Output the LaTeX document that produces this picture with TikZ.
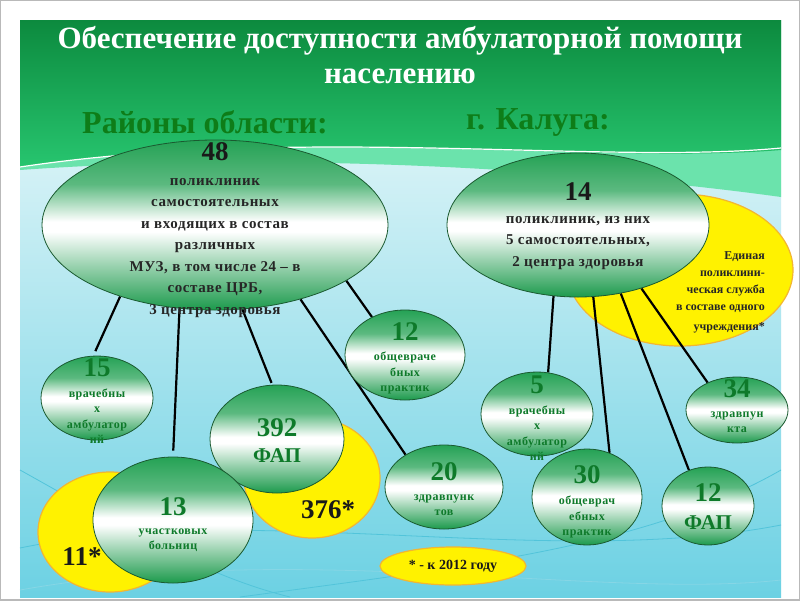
\documentclass[tikz,border=0pt]{standalone}
\usepackage{fontspec}
\setmainfont{Liberation Serif}
\usetikzlibrary{shapes.geometric}

\definecolor{bandtop}{HTML}{0C8A3E}
\definecolor{bandlow}{HTML}{27C56F}
\definecolor{mint}{HTML}{6BE3AC}
\definecolor{skyhigh}{HTML}{F6FCFC}
\definecolor{skylow}{HTML}{6CD1E3}
\definecolor{wave}{HTML}{52C4DA}
\definecolor{ovtop}{HTML}{25A255}
\definecolor{ovlow}{HTML}{1C9A4C}
\definecolor{ovedge}{HTML}{1A5A30}
\definecolor{headgreen}{HTML}{0E7D18}
\definecolor{numgreen}{HTML}{0E7A2A}
\definecolor{sun}{HTML}{FFF200}
\definecolor{sunedge}{HTML}{F2B632}

\pgfdeclareverticalshading{ovalshade}{100bp}{color(0bp)=(ovlow); color(25bp)=(ovlow);
  color(38bp)=(ovlow!45!white); color(48bp)=(white); color(51bp)=(white);
  color(62bp)=(ovtop!75!white); color(75bp)=(ovtop); color(100bp)=(ovtop)}

\pgfdeclarelayer{bg}
\pgfdeclarelayer{lines}
\pgfsetlayers{bg,lines,main}

\newcommand{\numfont}{\fontsize{27}{27}\selectfont\bfseries}
\newcommand{\bigtxt}{\fontsize{15}{21.5}\selectfont\bfseries\addfontfeatures{LetterSpace=4}}
\newcommand{\smalltxt}{\fontsize{12}{15.5}\selectfont\bfseries\addfontfeatures{LetterSpace=4}}

\begin{document}
\begin{tikzpicture} [x=1pt, y=-1pt,
            oval/.style={ellipse, draw=ovedge, line width=0.8pt,
                shading=ovalshade, inner sep=0pt},
            sunoval/.style={ellipse, draw=sunedge, line width=1.2pt,
                fill=sun, inner sep=0pt},
            num/.style={font=\numfont, text=numgreen, inner sep=0pt},
            blacknum/.style={font=\numfont, text=black!90, inner sep=0pt},
            bigtext/.style={font=\bigtxt, text=black!85, align=center, inner sep=0pt},
            smalltext/.style={font=\smalltxt, text=numgreen, align=center, inner sep=0pt},
            link/.style={draw=black, line width=2.2pt}]

        \useasboundingbox (0,0) rectangle (800,600);

        \begin{pgfonlayer}{bg}
        % Slide background
        \fill[white] (0,0) rectangle (800,600);
        \draw[gray!55, line width=2pt] (0,0) rectangle (800,600);
        \shade[top color=skyhigh, bottom color=skylow] (20,20) rectangle (781,597);
        \draw[wave, line width=0.8pt] (20,548) .. controls (250,500) and (550,570) .. (781,525);
        \draw[wave, line width=0.8pt] (240,597) .. controls (480,565) and (650,545) .. (781,470);
        \draw[wave, line width=0.8pt] (20,470) .. controls (110,520) and (200,575) .. (290,597);
        \draw[wave!70!white, line width=0.8pt] (20,590) .. controls (300,540) and (600,600) .. (781,580);
        \fill[mint] (20,20) -- (781,20) -- (781,197)
            .. controls (600,172) and (300,150) .. (20,170) -- cycle;
        \shade[top color=bandtop, bottom color=bandlow] (20,20) -- (781,20) -- (781,150)
            .. controls (600,165) and (300,125) .. (20,167) -- cycle;
        \draw[white, line width=1.2pt] (781,148) .. controls (600,165) and (300,125) .. (20,167);

        % Yellow backs
        \node (sun11) [sunoval, minimum width=144, minimum height=120] at (110,532) {};
        \node (sun376) [sunoval, minimum width=136, minimum height=120] at (312,478) {};
        \node (sunkal) [sunoval, minimum width=226, minimum height=152] at (680,270) {};
        \node (sunnote) [sunoval, minimum width=146, minimum height=38] at (453,566) {};

        % Yellow note, Kaluga
        \node (sunkaltxt) [font=\fontsize{12}{17}\selectfont\bfseries, text=black!85,
            align=right, anchor=east, inner sep=0pt] at (765,292)
            {Единая\\поликлини-\\ческая служба\\в составе одного\\[3pt]учреждения*};
        \end{pgfonlayer}

        % Title
        \node (title) [font=\fontsize{31}{35}\selectfont\bfseries,
            text=white, align=center] at (400,55)
            {Обеспечение доступности амбулаторной помощи\\населению};

        % Headings
        \node (areas) [font=\fontsize{32}{32}\selectfont\bfseries,
            text=headgreen] at (205,122) {Районы области:};
        \node (city) [font=\fontsize{32}{32}\selectfont\bfseries,
            text=headgreen] at (538,122) {г. Калуга:};

        % Districts: 48
        \node (obl) [oval, minimum width=346, minimum height=170] at (215,225) {};
        \node (obl48) [blacknum] at (215,152) {48};
        \node (obltxt) [bigtext] at (215,248)
            {поликлиник\\самостоятельных\\и входящих в состав\\различных\\МУЗ, в том числе 24 – в\\составе ЦРБ,\\3 центра здоровья};

        % Kaluga: 14
        \node (kal) [oval, minimum width=262, minimum height=144] at (578,225) {};
        \node (kal14) [blacknum] at (578,192) {14};
        \node (kaltxt) [bigtext] at (578,243)
            {поликлиник, из них\\5 самостоятельных,\\2 центра здоровья};

        % Districts: 15
        \node (n15) [oval, minimum width=112, minimum height=84] at (97,398) {};
        \node (n15num) [num] at (97,368) {15};
        \node (n15txt) [smalltext] at (97,416) {врачебны\\х\\амбулатор\\ий};

        % Districts: 392
        \node (n392) [oval, minimum width=134, minimum height=108] at (277,439) {};
        \node (n392num) [num] at (277,428) {392};
        \node (n392txt) [num, font=\fontsize{21}{21}\selectfont\bfseries] at (277,456) {ФАП};

        % Districts: 13
        \node (n13) [oval, minimum width=160, minimum height=126] at (173,520) {};
        \node (n13num) [num] at (173,507) {13};
        \node (n13txt) [smalltext] at (173,540) {участковых\\больниц};

        % Districts: 12
        \node (n12a) [oval, minimum width=120, minimum height=90] at (405,355) {};
        \node (n12anum) [num] at (405,332) {12};
        \node (n12atxt) [smalltext] at (405,373) {общевраче\\бных\\практик};

        % Districts: 20
        \node (n20) [oval, minimum width=118, minimum height=84] at (444,487) {};
        \node (n20num) [num] at (444,472) {20};
        \node (n20txt) [smalltext] at (444,505) {здравпунк\\тов};

        % Kaluga: 5
        \node (n5) [oval, minimum width=112, minimum height=84] at (537,414) {};
        \node (n5num) [num] at (537,385) {5};
        \node (n5txt) [smalltext] at (537,433) {врачебны\\х\\амбулатор\\ий};

        % Kaluga: 30
        \node (n30) [oval, minimum width=110, minimum height=96] at (587,497) {};
        \node (n30num) [num] at (587,475) {30};
        \node (n30txt) [smalltext] at (587,517) {общеврач\\ебных\\практик};

        % Kaluga: 34
        \node (n34) [oval, minimum width=102, minimum height=66] at (737,410) {};
        \node (n34num) [num] at (737,389) {34};
        \node (n34txt) [smalltext] at (737,422) {здравпун\\кта};

        % Kaluga: 12 FAP
        \node (n12f) [oval, minimum width=92, minimum height=78] at (708,506) {};
        \node (n12fnum) [num] at (708,493) {12};
        \node (n12ftxt) [num, font=\fontsize{21}{21}\selectfont\bfseries] at (708,523) {ФАП};

        % Asterisk figures
        \node (n11txt) [blacknum] at (82,557) {11*};
        \node (n376txt) [blacknum] at (328,510) {376*};
        \node (notetxt) [font=\fontsize{14}{14}\selectfont\bfseries, text=black!90]
            at (453,566) {* - к 2012 году};

        % Links
        \begin{pgfonlayer}{lines}
        \path [link]
            (obl.217) edge [shorten >=5pt] (n15.95)
            (obl.247) edge [shorten >=6pt] (n13.north)
            (obl.288) edge [shorten >=2pt] (n392.95)
            (obl.319) edge (n20.140)
            (obl.337) edge (n12a.131)
            (kal.251) edge (n5.75)
            (kal.282) edge (n30.63)
            (kal.302) edge (n12f.118)
            (kal.315) edge (n34.137);
        \end{pgfonlayer}
\end{tikzpicture}
\end{document}
